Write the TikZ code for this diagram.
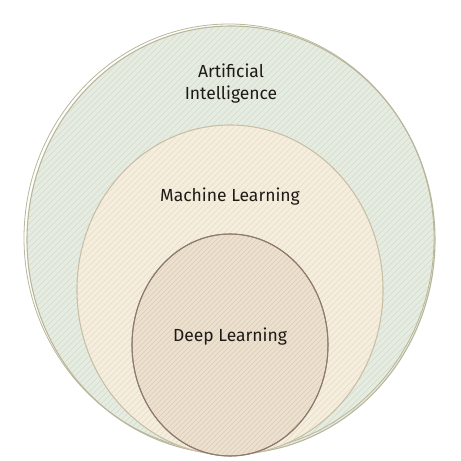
\documentclass[tikz,border=0pt]{standalone}
\usepackage{fontspec}
\setmainfont{Fira Sans}
\usetikzlibrary{shapes.geometric}
\definecolor{aifill}{HTML}{E7ECE3}
\definecolor{aihatch}{HTML}{D2DACB}
\definecolor{aistroke}{HTML}{B9B79A}
\definecolor{mlfill}{HTML}{F5EEDF}
\definecolor{mlhatch}{HTML}{E6DCC6}
\definecolor{mlstroke}{HTML}{C9BFA6}
\definecolor{dlfill}{HTML}{ECE0CE}
\definecolor{dlhatch}{HTML}{DDCCB6}
\definecolor{dlstroke}{HTML}{8E7A6E}
\definecolor{txt}{HTML}{1E1A16}
\tikzset{
  setblob/.style={ellipse, draw, line width=1.1pt},
  lbl/.style={text=txt, font=\fontsize{17.5}{22}\selectfont, align=center},
}
\begin{document}
\begin{tikzpicture}[x=1pt,y=-1pt]
\useasboundingbox (0,0) rectangle (461,461);
\fill[white] (0,0) rectangle (461,461);
% AI
\node[setblob, draw=aistroke, fill=aifill, minimum width=408pt, minimum height=428pt] (ai) at (231,240) {};
\begin{scope}
\clip (231,240) ellipse [x radius=203, y radius=213];
\foreach \k in {-460,-454,...,460} {\draw[aihatch, line width=0.6pt] (\k,461) -- (\k+461,0);}
\end{scope}
\draw[aistroke, line width=0.8pt] (229,238) ellipse [x radius=205, y radius=214];
% ML
\node[setblob, draw=mlstroke, fill=mlfill, minimum width=306pt, minimum height=330pt] (ml) at (230,290) {};
\begin{scope}
\clip (230,290) ellipse [x radius=152, y radius=164];
\foreach \k in {-460,-454,...,460} {\draw[mlhatch, line width=0.6pt] (\k,461) -- (\k+461,0);}
\end{scope}
% DL
\node[setblob, draw=dlstroke, fill=dlfill, minimum width=196pt, minimum height=222pt] (dl) at (230,345) {};
\begin{scope}
\clip (230,345) ellipse [x radius=97, y radius=110];
\foreach \k in {-460,-455,...,460} {\draw[dlhatch, line width=0.6pt] (\k,461) -- (\k+461,0);}
\end{scope}
\node[setblob, draw=dlstroke, line width=0.9pt, minimum width=196pt, minimum height=222pt] (dlb) at (230,345) {};
% labels
\node[lbl] (tai) at (231,84) {Artificial\\Intelligence};
\node[lbl] (tml) at (230,197) {Machine Learning};
\node[lbl] (tdl) at (230,337) {Deep Learning};
\end{tikzpicture}
\end{document}
